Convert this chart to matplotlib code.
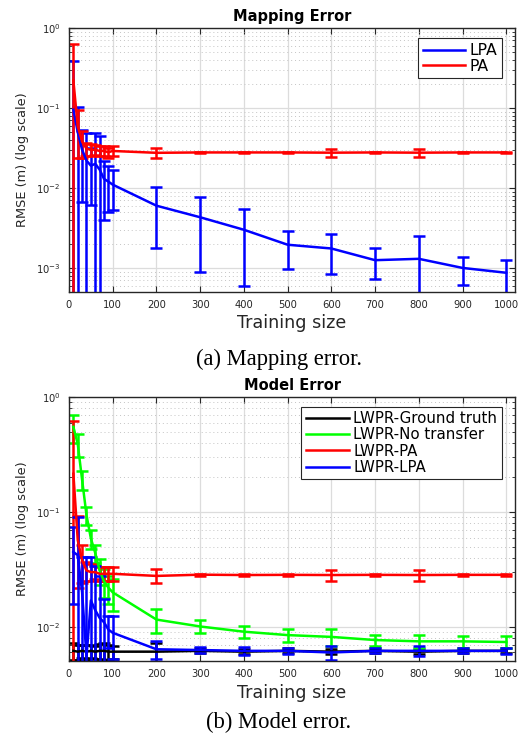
import matplotlib
matplotlib.use("Agg")
import matplotlib.pyplot as plt
from matplotlib.ticker import FixedLocator, LogLocator, NullFormatter
from matplotlib.lines import Line2D

plt.rcParams['font.family'] = ['DejaVu Sans']
plt.rcParams['mathtext.default'] = 'regular'

# ---------------- data ----------------
training_size = [10, 20, 30, 40, 50, 60, 70, 80, 90, 100,
                 200, 300, 400, 500, 600, 700, 800, 900, 1000]

# (a) Mapping error
lpa_map_mean = [0.095, 0.050, 0.030, 0.022, 0.019, 0.020, 0.017, 0.013, 0.012, 0.011,
                0.0060, 0.0043, 0.0030, 0.00195, 0.00175, 0.00125, 0.0013, 0.0010, 0.00087]
lpa_map_err = [0.29, 0.052, 0.0234, 0.026, 0.0128, 0.028, 0.028, 0.009, 0.007, 0.0057,
               0.0042, 0.0034, 0.0024, 0.00097, 0.00092, 0.00053, 0.0012, 0.00038, 0.0004]
pa_map_mean = [0.22, 0.059, 0.038, 0.031, 0.030, 0.030, 0.029, 0.029, 0.028, 0.029,
               0.0275, 0.0278, 0.0278, 0.0278, 0.0276, 0.0278, 0.0276, 0.0278, 0.0278]
pa_map_err = [0.41, 0.035, 0.014, 0.006, 0.005, 0.004, 0.004, 0.004, 0.004, 0.004,
              0.004, 0.0004, 0.0004, 0.0004, 0.003, 0.0004, 0.003, 0.0004, 0.0004]

# (b) Model error
gt_mean = [0.0062, 0.0061, 0.0062, 0.0061, 0.0062, 0.0061, 0.0062, 0.0062, 0.0061, 0.0061,
           0.0061, 0.0062, 0.0061, 0.0062, 0.0061, 0.0062, 0.0061, 0.0062, 0.0062]
gt_err = [0.0010, 0.0009, 0.0008, 0.0009, 0.0008, 0.0008, 0.0009, 0.0010, 0.0009, 0.0008,
          0.0011, 0.0003, 0.0003, 0.0003, 0.0003, 0.0003, 0.0003, 0.0003, 0.0003]
nt_mean = [0.55, 0.39, 0.19, 0.094, 0.059, 0.044, 0.031, 0.025, 0.022, 0.020,
           0.0116, 0.0101, 0.0091, 0.0085, 0.0082, 0.0077, 0.0075, 0.0075, 0.0074]
nt_err = [0.15, 0.09, 0.035, 0.017, 0.011, 0.008, 0.008, 0.007, 0.006, 0.0063,
          0.0027, 0.0013, 0.0011, 0.0011, 0.0014, 0.0009, 0.0010, 0.0009, 0.0009]
pa_mod_mean = [0.215, 0.057, 0.038, 0.031, 0.030, 0.030, 0.029, 0.029, 0.029, 0.029,
               0.0278, 0.0285, 0.0283, 0.0284, 0.0283, 0.0284, 0.0283, 0.0284, 0.0284]
pa_mod_err = [0.40, 0.035, 0.014, 0.006, 0.005, 0.004, 0.004, 0.004, 0.004, 0.004,
              0.0039, 0.0005, 0.0005, 0.0005, 0.003, 0.0005, 0.003, 0.0005, 0.0005]
lpa_mod_mean = [0.045, 0.042, 0.020, 0.0055, 0.017, 0.014, 0.012, 0.011, 0.0095, 0.0089,
                0.0064, 0.0063, 0.0062, 0.0062, 0.0060, 0.0062, 0.0062, 0.0062, 0.0062]
lpa_mod_err = [0.029, 0.049, 0.021, 0.035, 0.024, 0.020, 0.016, 0.0065, 0.003, 0.0036,
               0.0011, 0.0004, 0.0005, 0.0004, 0.0008, 0.0003, 0.0006, 0.0003, 0.0004]

x_ticks = [0, 100, 200, 300, 400, 500, 600, 700, 800, 900, 1000]

# ---------------- figure ----------------
W, H = 527, 736
fig = plt.figure(figsize=(W / 100, H / 100), dpi=100)
ax1 = fig.add_axes([69 / W, 1 - 292 / H, 446 / W, 264 / H])
ax2 = fig.add_axes([69 / W, 1 - 661 / H, 446 / W, 264 / H])

LW = 1.8
CAP = 4.0


def eb(ax, y, e, color, label):
    ax.errorbar(training_size, y, yerr=e, color=color, lw=LW, elinewidth=LW,
                capsize=CAP, capthick=LW, label=label)


def style(ax, ylim, title):
    ax.set_yscale('log')
    ax.set_xlim(0, 1020)
    ax.set_ylim(*ylim)
    ax.xaxis.set_major_locator(FixedLocator(x_ticks))
    ax.yaxis.set_major_locator(LogLocator(base=10, numticks=10))
    ax.yaxis.set_minor_locator(LogLocator(base=10, subs=range(2, 10), numticks=20))
    ax.yaxis.set_minor_formatter(NullFormatter())
    ax.grid(True, which='major', color='#dcdcdc', lw=0.9, ls='-')
    ax.grid(True, which='minor', axis='y', color='#c4c4c4', lw=0.7, ls=(0, (1, 3)))
    ax.set_axisbelow(True)
    ax.tick_params(which='both', direction='in', top=True, right=True,
                   labelsize=7.2, colors='#262626', pad=6)
    ax.tick_params(which='major', length=4, width=0.8)
    ax.tick_params(which='minor', length=2.5, width=0.6)
    for s in ax.spines.values():
        s.set_color('#262626')
        s.set_linewidth(1.0)
    ax.set_xlabel('Training size', fontsize=12.6, color='#262626', labelpad=3)
    ax.set_ylabel('RMSE (m) (log scale)', fontsize=9.3, color='#262626', labelpad=5)
    ax.set_title(title, fontsize=10.5, fontweight='bold', pad=5)


# (a)
eb(ax1, lpa_map_mean, lpa_map_err, '#0000ff', 'LPA')
eb(ax1, pa_map_mean, pa_map_err, '#ff0000', 'PA')
style(ax1, (5e-4, 1), 'Mapping Error')

# (b)
eb(ax2, gt_mean, gt_err, '#000000', 'LWPR-Ground truth')
eb(ax2, nt_mean, nt_err, '#00ff00', 'LWPR-No transfer')
eb(ax2, pa_mod_mean, pa_mod_err, '#ff0000', 'LWPR-PA')
eb(ax2, lpa_mod_mean, lpa_mod_err, '#0000ff', 'LWPR-LPA')
style(ax2, (5.06e-3, 1), 'Model Error')


def legend(ax, labels, colors, anchor, fs, hl, sp):
    handles = [Line2D([], [], color=c, lw=LW) for c in colors]
    lg = ax.legend(handles, labels, loc='upper right', bbox_to_anchor=anchor,
                   borderaxespad=0, fancybox=False, framealpha=1, edgecolor='#262626',
                   fontsize=fs, handlelength=hl, handletextpad=0.25,
                   labelspacing=sp, borderpad=0.3)
    lg.get_frame().set_linewidth(0.8)


legend(ax1, ['LPA', 'PA'], ['#0000ff', '#ff0000'], (0.970, 0.961), 11.3, 2.7, 0.05)
legend(ax2, ['LWPR-Ground truth', 'LWPR-No transfer', 'LWPR-PA', 'LWPR-LPA'],
       ['#000000', '#00ff00', '#ff0000', '#0000ff'], (0.970, 0.963), 10.8, 2.9, 0.08)

fig.text(279 / W, 1 - 365 / H, '(a) Mapping error.', ha='center', va='baseline',
         family='Liberation Serif', fontsize=16.3)
fig.text(279 / W, 1 - 728 / H, '(b) Model error.', ha='center', va='baseline',
         family='Liberation Serif', fontsize=16.3)

fig.savefig('out.png', dpi=100)
